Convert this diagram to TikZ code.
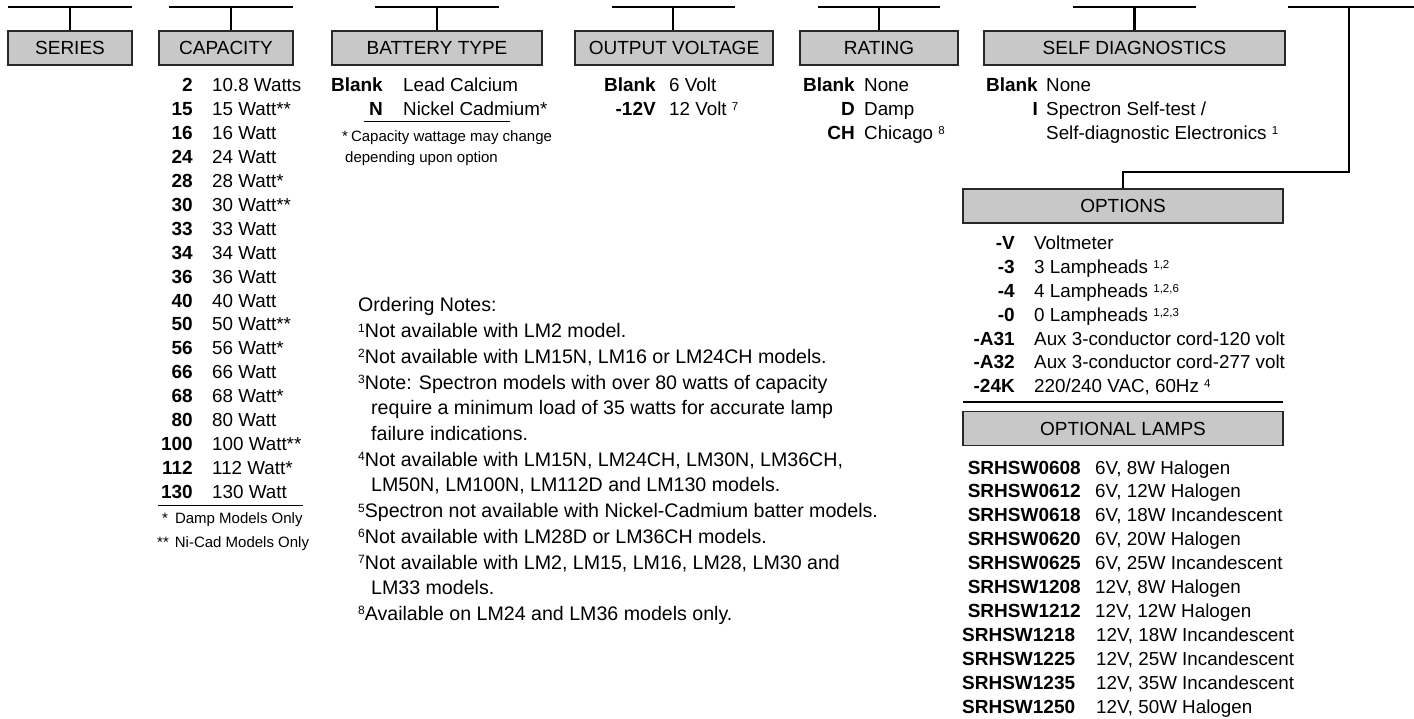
\documentclass[tikz,border=0pt]{standalone}
\usepackage{fontspec}
\setmainfont{Liberation Sans}
\definecolor{boxgray}{RGB}{200,200,200}
\definecolor{boxline}{RGB}{40,40,40}
\newcommand\hdrfont{\fontsize{19}{19}\selectfont}
\newcommand\codefont{\fontsize{19}{19}\selectfont\bfseries}
\newcommand\descfont{\fontsize{18.8}{19}\selectfont}
\newcommand\notefont{\fontsize{19.6}{20}\selectfont}
\newcommand\fnfont{\fontsize{15}{15}\selectfont}
\newcommand\mysup[1]{\raisebox{5pt}{\fontsize{11.5}{12}\selectfont #1}}
\newcommand\notesup[1]{\raisebox{5.5pt}{\fontsize{12}{12}\selectfont #1}}
\begin{document}
\begin{tikzpicture}[x=1pt,y=-1pt,
  hdr/.style={draw=boxline, line width=1.2pt, fill=boxgray, inner sep=0pt,
    minimum height=34pt, font=\hdrfont},
  conn/.style={line width=2.6pt, black},
  rule/.style={line width=1pt, black},
  code/.style={anchor=base east, inner sep=0pt, font=\codefont},
  desc/.style={anchor=base west, inner sep=0pt, font=\descfont},
  lcode/.style={anchor=base west, inner sep=0pt, font=\codefont},
  note/.style={anchor=base west, inner sep=0pt, font=\notefont},
  fn/.style={anchor=base west, inner sep=0pt, font=\fnfont}]
\useasboundingbox (0,0) rectangle (1414,719);
\fill[white] (0,0) rectangle (1414,719);

% header boxes
\node[hdr, minimum width=124pt] (series) at (70,48) {SERIES};
\node[hdr, minimum width=134pt] (capacity) at (226,48) {CAPACITY};
\node[hdr, minimum width=210pt] (battery) at (437,48) {BATTERY TYPE};
\node[hdr, minimum width=198pt] (voltage) at (674,48) {OUTPUT VOLTAGE};
\node[hdr, minimum width=158pt] (rating) at (879,48) {RATING};
\node[hdr, minimum width=301pt] (selfdiag) at (1134.5,48) {SELF DIAGNOSTICS};
\node[hdr, minimum width=320pt] (options) at (1123,206) {OPTIONS};
\node[hdr, minimum width=320pt] (lamps) at (1123,428.5) {OPTIONAL LAMPS};

% top lines and connectors
\coordinate (t1a) at (8,7);    \coordinate (t1b) at (132,7);
\coordinate (t2a) at (169,7);  \coordinate (t2b) at (293,7);  \coordinate (t2c) at (231,7);
\coordinate (t3a) at (375,7);  \coordinate (t3b) at (499,7);
\coordinate (t4a) at (612,7);  \coordinate (t4b) at (735,7);  \coordinate (t4c) at (673,7);
\coordinate (t5a) at (818,7);  \coordinate (t5b) at (940,7);
\coordinate (t6a) at (1073,7); \coordinate (t6b) at (1196,7);
\coordinate (t7a) at (1288,7); \coordinate (t7b) at (1414,7);
\coordinate (t7c) at (1349,7); \coordinate (t7d) at (1349,172);
\draw[conn] (t1a) -- (t1b);
\draw[conn] (t2a) -- (t2b);
\draw[conn] (t3a) -- (t3b);
\draw[conn] (t4a) -- (t4b);
\draw[conn] (t5a) -- (t5b);
\draw[conn] (t6a) -- (t6b);
\draw[conn] (t7a) -- (t7b);
\draw[conn] (series.north) -- (series.north |- t1a);
\draw[conn] (t2c) -- (t2c |- capacity.north);
\draw[conn] (battery.north) -- (battery.north |- t3a);
\draw[conn] (t4c) -- (t4c |- voltage.north);
\draw[conn] (rating.north) -- (rating.north |- t5a);
\draw[conn] (selfdiag.north) -- (selfdiag.north |- t6a);
\draw[conn] (t7c) -- (t7d) -| (options.north);

% capacity
\foreach \c/\d [count=\i from 0] in {2/10.8 Watts, 15/15 Watt**, 16/16 Watt,
  24/24 Watt, 28/28 Watt*, 30/30 Watt**, 33/33 Watt, 34/34 Watt, 36/36 Watt,
  40/40 Watt, 50/50 Watt**, 56/56 Watt*, 66/66 Watt, 68/68 Watt*, 80/80 Watt,
  100/100 Watt**, 112/112 Watt*, 130/130 Watt} {
  \node[code] (capc\i) at (193,{92+23.9*\i}) {\c};
  \node[desc] (capd\i) at (212,{92+23.9*\i}) {\d};
}
\coordinate (cu1) at (158,505); \coordinate (cu2) at (303,505);
\draw[rule] (cu1) -- (cu2);
\node[fn] (capfn1) at (162,523) {*\hspace{7pt}Damp Models Only};
\node[fn] (capfn2) at (157,547) {**\hspace{6pt}Ni-Cad Models Only};

% battery type
\node[code] (batc1) at (383,92) {Blank};
\node[desc] (batd1) at (403,92) {Lead Calcium};
\node[code] (batc2) at (383,115.6) {N};
\node[desc] (batd2) at (403,115.6) {Nickel Cadmium*};
\coordinate (bu1) at (364,121.5); \coordinate (bu2) at (510,121.5);
\draw[rule] (bu1) -- (bu2);
\node[fn] (batfn1) at (342,142) {*\hspace{3pt}Capacity wattage may change};
\node[fn] (batfn2) at (345,163) {depending upon option};

% output voltage
\node[code] (volc1) at (656,92) {Blank};
\node[desc] (vold1) at (669,92) {6 Volt};
\node[code] (volc2) at (656,115.6) {-12V};
\node[desc] (vold2) at (669,115.6) {12 Volt \mysup{7}};

% rating
\node[code] (ratc1) at (855,92) {Blank};
\node[desc] (ratd1) at (864,92) {None};
\node[code] (ratc2) at (855,115.6) {D};
\node[desc] (ratd2) at (864,115.6) {Damp};
\node[code] (ratc3) at (855,139.2) {CH};
\node[desc] (ratd3) at (864,139.2) {Chicago \mysup{8}};

% self diagnostics
\node[code] (sdc1) at (1038,92) {Blank};
\node[desc] (sdd1) at (1046,92) {None};
\node[code] (sdc2) at (1038,115.6) {I};
\node[desc] (sdd2) at (1046,115.6) {Spectron Self-test /};
\node[desc] (sdd3) at (1046,139.2) {Self-diagnostic Electronics \mysup{1}};

% options
\foreach \c/\d [count=\i from 0] in {-V/{Voltmeter}, -3/{3 Lampheads \mysup{1,2}},
  -4/{4 Lampheads \mysup{1,2,6}}, -0/{0 Lampheads \mysup{1,2,3}},
  -A31/{Aux 3-conductor cord-120 volt}, -A32/{Aux 3-conductor cord-277 volt},
  -24K/{220/240 VAC, 60Hz \mysup{4}}} {
  \node[code] (optc\i) at (1015,{250+23.8*\i}) {\c};
  \node[desc] (optd\i) at (1034,{250+23.8*\i}) {\d};
}
\coordinate (ou1) at (963,402); \coordinate (ou2) at (1283,402);
\draw[line width=1.2pt] (ou1) -- (ou2);

% optional lamps
\foreach \c/\d [count=\i from 0] in {SRHSW0608/{6V, 8W Halogen},
  SRHSW0612/{6V, 12W Halogen}, SRHSW0618/{6V, 18W Incandescent},
  SRHSW0620/{6V, 20W Halogen}, SRHSW0625/{6V, 25W Incandescent},
  SRHSW1208/{12V, 8W Halogen}, SRHSW1212/{12V, 12W Halogen}} {
  \node[code] (lampc\i) at (1081,{474+23.9*\i}) {\c};
  \node[desc] (lampd\i) at (1095,{474+23.9*\i}) {\d};
}
\foreach \c/\d [count=\i from 7] in {SRHSW1218/{12V, 18W Incandescent},
  SRHSW1225/{12V, 25W Incandescent}, SRHSW1235/{12V, 35W Incandescent},
  SRHSW1250/{12V, 50W Halogen}} {
  \node[lcode] (lampc\i) at (962,{474+23.9*\i}) {\c};
  \node[desc] (lampd\i) at (1096,{474+23.9*\i}) {\d};
}

% ordering notes
\node[note] (n0) at (358,312) {Ordering Notes:};
\node[note] (n1) at (358,337.7) {\notesup{1}Not available with LM2 model.};
\node[note] (n2) at (358,363.4) {\notesup{2}Not available with LM15N, LM16 or LM24CH models.};
\node[note] (n3) at (358,389.1) {\notesup{3}Note: Spectron models with over 80 watts of capacity};
\node[note] (n4) at (371,414.8) {require a minimum load of 35 watts for accurate lamp};
\node[note] (n5) at (371,440.5) {failure indications.};
\node[note] (n6) at (358,466.2) {\notesup{4}Not available with LM15N, LM24CH, LM30N, LM36CH,};
\node[note] (n7) at (371,491.9) {LM50N, LM100N, LM112D and LM130 models.};
\node[note] (n8) at (358,517.6) {\notesup{5}Spectron not available with Nickel-Cadmium batter models.};
\node[note] (n9) at (358,543.3) {\notesup{6}Not available with LM28D or LM36CH models.};
\node[note] (n10) at (358,569) {\notesup{7}Not available with LM2, LM15, LM16, LM28, LM30 and};
\node[note] (n11) at (371,594.7) {LM33 models.};
\node[note] (n12) at (358,620.4) {\notesup{8}Available on LM24 and LM36 models only.};
\end{tikzpicture}
\end{document}
